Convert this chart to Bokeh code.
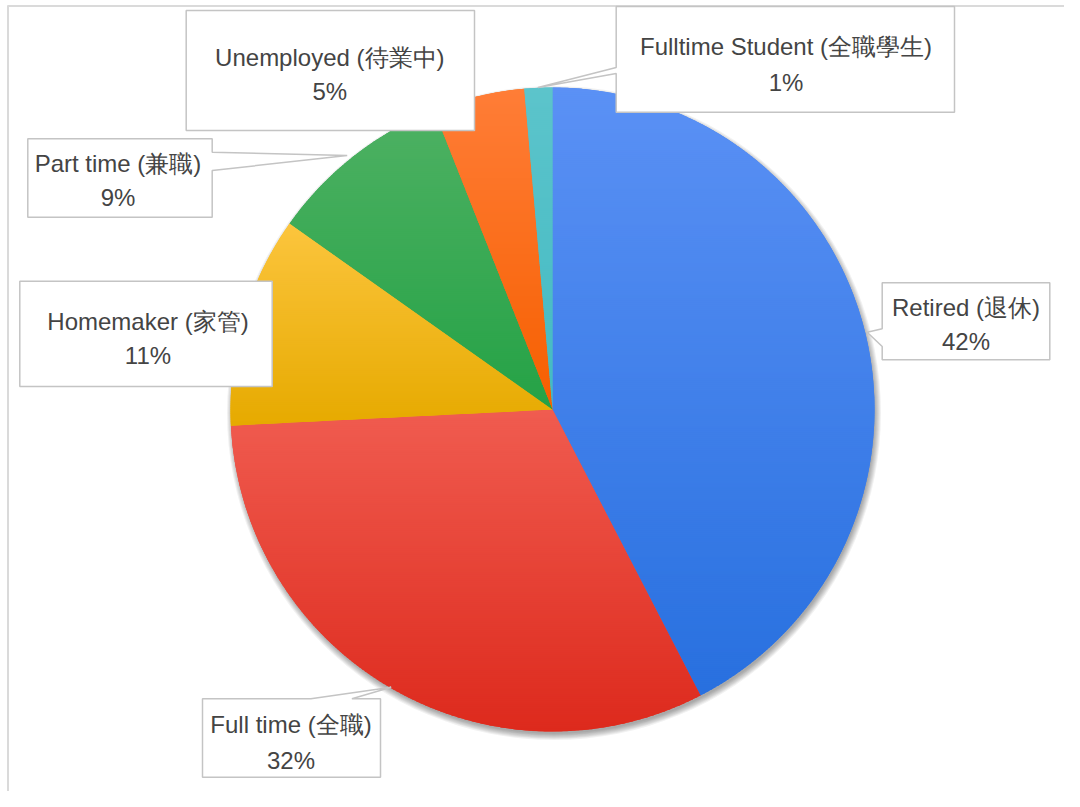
import numpy as np
from bokeh.plotting import figure
from bokeh.models import Range1d
from bokeh.core.properties import value
from bokeh.embed import file_html
from bokeh.resources import INLINE

# ---------------- data ----------------
categories = ["Retired (退休)", "Full time (全職)", "Homemaker (家管)",
              "Part time (兼職)", "Unemployed (待業中)", "Fulltime Student (全職學生)"]
shares = [42.4, 31.8, 10.6, 9.2, 4.6, 1.4]
top_colors = ["#5b91f5", "#f05c50", "#fcc53e", "#4eb163", "#ff7d37", "#5cc4cb"]
bottom_colors = ["#2870df", "#dd2a1d", "#e6aa00", "#25a246", "#f65f00", "#43bac3"]
mid_colors = ["#4285f4", "#ea4335", "#fbbc04", "#34a853", "#ff6d01", "#46bdc6"]
pct_labels = [f"{round(s)}%" for s in shares]

# ---------------- layout (page pixel coordinates) ----------------
W, H = 1064, 791
PAGE_H = 807


def Y(py):
    return PAGE_H - py


CX, CY, R = 552.0, Y(409.0), 322.0

callouts = [
    dict(box=(881.7, 282.3, 1049.3, 359.3), side="left", n=(328.3, 346.0), tip=(866.7, 331.7),
         tx=965.5, ty=(307.0, 340.5)),
    dict(box=(202.0, 698.3, 380.0, 776.7), side="top", n=(310.4, 351.4), tip=(390.7, 686.7),
         tx=290.5, ty=(724.3, 760.0)),
    dict(box=(19.3, 280.7, 271.7, 386.0), side=None, n=None, tip=None,
         tx=147.5, ty=(320.5, 355.0)),
    dict(box=(27.3, 138.3, 211.7, 216.7), side="right", n=(151.7, 170.0), tip=(346.7, 155.0),
         tx=117.5, ty=(162.5, 196.7)),
    dict(box=(185.7, 10.0, 474.0, 130.0), side=None, n=None, tip=None,
         tx=329.3, ty=(57.0, 91.0)),
    dict(box=(615.7, 6.0, 954.0, 111.7), side="left", n=(67.0, 73.0), tip=(537.5, 87.0),
         tx=785.5, ty=(45.8, 81.7)),
]

p = figure(width=W, height=H, output_backend="svg", toolbar_location=None,
           x_range=Range1d(0, W), y_range=Range1d(PAGE_H - H, PAGE_H),
           x_axis_location=None, y_axis_location=None,
           min_border=0, min_border_left=0, min_border_right=0,
           min_border_top=0, min_border_bottom=0)
p.outline_line_color = None
p.xgrid.visible = False
p.ygrid.visible = False
p.background_fill_color = "white"
p.border_fill_color = "white"

# page border (top + left)
p.line(x=[7.5, 7.5], y=[Y(5), Y(807)], line_color="#dadada", line_width=2)
p.line(x=[7, 1080], y=[Y(5.5), Y(5.5)], line_color="#dadada", line_width=2)

# shadow
for k in range(7):
    p.circle(x=[CX + 1.5], y=[CY - 3.5], radius=R - 1 + k,
             fill_color="black", fill_alpha=0.055, line_color=None)

# angles (clockwise from 12 o'clock)
frac = np.array(shares) / np.sum(shares)
ends = np.cumsum(frac) * 360.0
starts = ends - frac * 360.0

p.wedge(x=[CX] * len(shares), y=[CY] * len(shares), radius=R,
        start_angle=list(90 - ends), end_angle=list(90 - starts),
        start_angle_units="deg", end_angle_units="deg", direction="anticlock",
        fill_color=mid_colors, line_color=None)


def hex2rgb(h):
    h = h.lstrip("#")
    return np.array([int(h[i:i + 2], 16) for i in (0, 2, 4)], dtype=float)


def mix(c1, c2, t):
    c = hex2rgb(c1) * (1 - t) + hex2rgb(c2) * t
    return "#%02x%02x%02x" % tuple(int(round(v)) for v in c)


def clip(poly, y0, keep_above):
    out = []
    n = len(poly)
    for i in range(n):
        P = poly[i]
        Q = poly[(i + 1) % n]
        inP = P[1] >= y0 if keep_above else P[1] <= y0
        inQ = Q[1] >= y0 if keep_above else Q[1] <= y0
        if inP:
            out.append(P)
        if inP != inQ:
            t = (y0 - P[1]) / (Q[1] - P[1])
            out.append((P[0] + t * (Q[0] - P[0]), y0))
    return out


xs, ys, cols = [], [], []
for i in range(len(shares)):
    a0 = np.radians(90 - ends[i])
    a1 = np.radians(90 - starts[i])
    n = max(10, int((ends[i] - starts[i]) * 3))
    aa = np.linspace(a0, a1, n)
    poly = [(CX, CY)] + [(CX + R * np.cos(a), CY + R * np.sin(a)) for a in aa]
    ymin = min(pt[1] for pt in poly)
    ymax = max(pt[1] for pt in poly)
    h = 2.0
    nstrip = int(np.ceil((ymax - ymin) / h))
    for k in range(nstrip):
        yb = ymax - k * h + (0.7 if k > 0 else 0)
        ya = ymax - (k + 1) * h
        part = clip(poly, ya, True)
        if len(part) < 3:
            continue
        part = clip(part, yb, False)
        if len(part) < 3:
            continue
        t = min(1.0, (k + 0.5) * h / (ymax - ymin))
        xs.append([pt[0] for pt in part])
        ys.append([pt[1] for pt in part])
        cols.append(mix(top_colors[i], bottom_colors[i], t))

p.patches(xs=xs, ys=ys, fill_color=cols, line_color=None)

# callouts
cx_list, cy_list = [], []
for c in callouts:
    L, T, Rr, B = c["box"]
    if c["side"] == "left":
        pts = [(L, T), (Rr, T), (Rr, B), (L, B), (L, c["n"][1]), c["tip"], (L, c["n"][0])]
    elif c["side"] == "right":
        pts = [(L, T), (Rr, T), (Rr, c["n"][0]), c["tip"], (Rr, c["n"][1]), (Rr, B), (L, B)]
    elif c["side"] == "top":
        pts = [(L, T), (c["n"][0], T), c["tip"], (c["n"][1], T), (Rr, T), (Rr, B), (L, B)]
    else:
        pts = [(L, T), (Rr, T), (Rr, B), (L, B)]
    cx_list.append([q[0] for q in pts])
    cy_list.append([Y(q[1]) for q in pts])

p.patches(xs=cx_list, ys=cy_list, fill_color="white", line_color="#c4c4c4", line_width=1.5)

tx, ty, tt = [], [], []
for i, c in enumerate(callouts):
    tx += [c["tx"], c["tx"]]
    ty += [Y(c["ty"][0]), Y(c["ty"][1])]
    tt += [categories[i], pct_labels[i]]

p.text(x=tx, y=ty, text=tt, text_align="center", text_baseline="middle",
       text_font=value("Liberation Sans"), text_font_size="24px", text_color="#444444")

open("out.html", "w").write(file_html(p, INLINE))
